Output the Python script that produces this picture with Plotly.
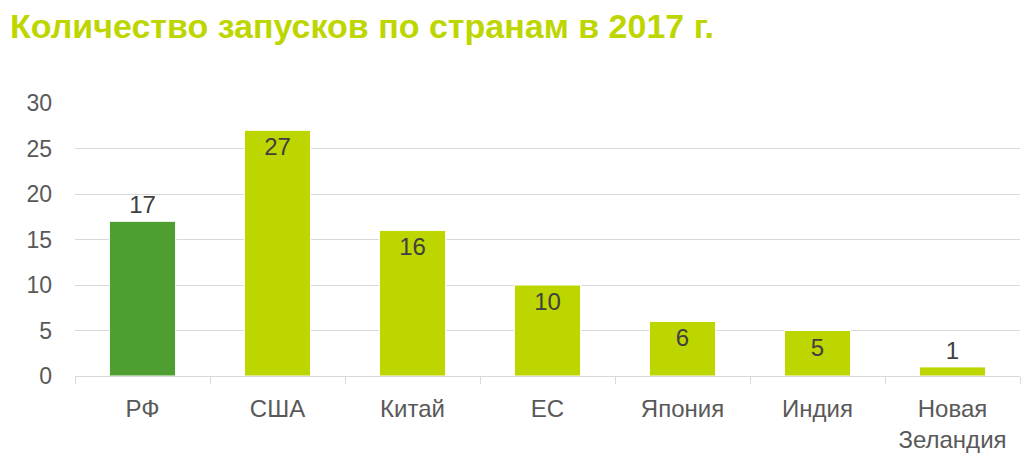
import plotly.graph_objects as go

categories = ["РФ", "США", "Китай", "ЕС", "Япония", "Индия", "Новая<br>Зеландия"]
launches = [17, 27, 16, 10, 6, 5, 1]
bar_colors = ["#4f9e32", "#bed600", "#bed600", "#bed600", "#bed600", "#bed600", "#bed600"]
text_pos = ["outside", "inside", "inside", "inside", "inside", "inside", "outside"]
y_ticks = [0, 5, 10, 15, 20, 25, 30]

FONT = "Liberation Sans, Arial, sans-serif"

fig = go.Figure()
fig.add_trace(go.Bar(
    x=categories,
    y=launches,
    marker=dict(color=bar_colors, line=dict(color="white", width=1)),
    text=[str(v) for v in launches],
    textposition=text_pos,
    insidetextanchor="end",
    textangle=0,
    constraintext="none",
    cliponaxis=False,
    textfont=dict(family=FONT, size=24, color="#404040"),
    outsidetextfont=dict(family=FONT, size=24, color="#404040"),
    insidetextfont=dict(family=FONT, size=24, color="#404040"),
))

fig.update_layout(
    width=1029,
    height=461,
    paper_bgcolor="white",
    plot_bgcolor="white",
    margin=dict(l=67, r=17, t=95, b=93, autoexpand=False),
    bargap=0.51,
    showlegend=False,
    title=dict(
        text="<b>Количество запусков по странам в 2017 г.</b>",
        xref="container", x=0.002, xanchor="left",
        yref="container", y=0.961, yanchor="middle",
        font=dict(family=FONT, size=34, color="#bed600"),
    ),
    font=dict(family=FONT, size=23, color="#595959"),
)

fig.update_yaxes(
    range=[0, 30],
    tickvals=y_ticks,
    showgrid=True,
    gridcolor="#d9d9d9",
    gridwidth=1,
    zeroline=False,
    showline=False,
    ticks="",
    automargin=False,
    ticklabelstandoff=22,
    tickfont=dict(family=FONT, size=23, color="#595959"),
)

fig.update_xaxes(
    showline=True,
    linecolor="#d9d9d9",
    linewidth=1,
    ticks="outside",
    tickson="boundaries",
    ticklen=7,
    tickcolor="#d9d9d9",
    automargin=False,
    ticklabelstandoff=11,
    tickfont=dict(family=FONT, size=24, color="#595959"),
    showgrid=False,
)

fig.write_html("out.html")
